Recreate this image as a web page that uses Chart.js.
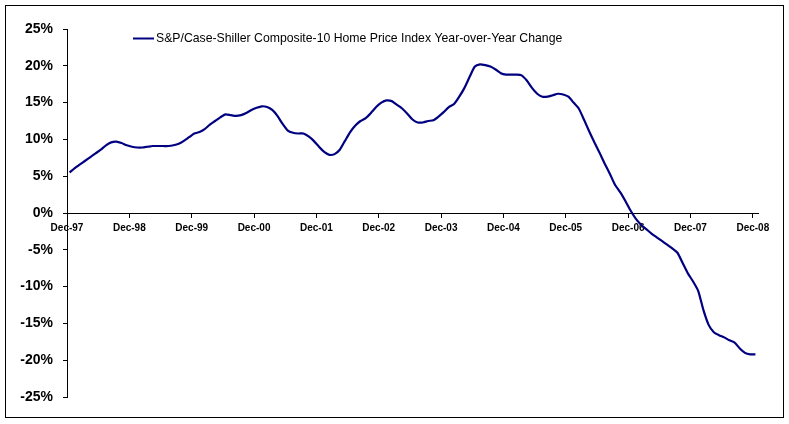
<!DOCTYPE html>
<html>
<head>
<meta charset="utf-8">
<script src="https://cdn.jsdelivr.net/npm/chart.js@4.4.1/dist/chart.umd.min.js"></script>
<style>
  html, body { margin: 0; padding: 0; background: #fff; }
  #wrap { width: 789px; height: 424px; position: relative; }
</style>
</head>
<body>
<div id="wrap"><canvas id="trendChart" width="789" height="424"></canvas></div>
<script>
// monthly year-over-year change (%), Dec-97 .. Dec-08
const seriesLabel = "S&P/Case-Shiller Composite-10 Home Price Index Year-over-Year Change";
const tickLabels = ["Dec-97", "Dec-98", "Dec-99", "Dec-00", "Dec-01", "Dec-02",
                    "Dec-03", "Dec-04", "Dec-05", "Dec-06", "Dec-07", "Dec-08"];
const yoy1998 = [5.5, 6.1, 6.6, 7.1, 7.6, 8.1, 8.6, 9.2, 9.6, 9.7, 9.5, 9.2];
const yoy1999 = [9.0, 8.9, 8.9, 9.0, 9.1, 9.1, 9.1, 9.1, 9.2, 9.4, 9.8, 10.3];
const yoy2000 = [10.8, 11.0, 11.4, 12.0, 12.5, 13.0, 13.4, 13.3, 13.2, 13.3, 13.6, 14.0];
const yoy2001 = [14.3, 14.5, 14.4, 14.0, 13.2, 12.1, 11.2, 10.9, 10.8, 10.8, 10.4, 9.8];
const yoy2002 = [9.0, 8.3, 7.9, 8.0, 8.6, 9.8, 11.0, 11.9, 12.5, 12.9, 13.6, 14.4];
const yoy2003 = [15.0, 15.3, 15.2, 14.7, 14.2, 13.5, 12.7, 12.3, 12.3, 12.5, 12.6, 13.1];
const yoy2004 = [13.7, 14.4, 14.8, 15.8, 17.0, 18.5, 19.9, 20.2, 20.1, 19.9, 19.5, 19.0];
const yoy2005 = [18.8, 18.8, 18.8, 18.7, 18.0, 17.0, 16.2, 15.8, 15.8, 16.0, 16.2, 16.1];
const yoy2006 = [15.8, 15.0, 14.2, 12.7, 11.1, 9.6, 8.2, 6.7, 5.3, 3.8, 2.8, 1.6];
const yoy2007 = [0.3, -0.8, -1.6, -2.2, -2.8, -3.3, -3.8, -4.3, -4.8, -5.4, -6.8, -8.2];
const yoy2008 = [-9.3, -10.6, -13.2, -15.2, -16.2, -16.6, -16.9, -17.3, -17.6, -18.4, -19.0, -19.2, -19.2];

const values = [].concat(yoy1998, yoy1999, yoy2000, yoy2001, yoy2002, yoy2003,
                         yoy2004, yoy2005, yoy2006, yoy2007, yoy2008);
// each month sits in the middle of its slot, as Excel does
const points = values.map((v, i) => ({ x: i + 0.5, y: v }));

const lineColor = "#000080";

const framePlugin = {
    id: "frame",
    afterDraw(chart) {
        const ctx = chart.ctx;
        ctx.save();
        ctx.strokeStyle = "#000";
        ctx.lineWidth = 1;
        ctx.strokeRect(5.5, 5.5, 778, 412);

        // legend inside the plot area
        ctx.strokeStyle = lineColor;
        ctx.lineWidth = 2;
        ctx.beginPath();
        ctx.moveTo(133, 38.5);
        ctx.lineTo(154, 38.5);
        ctx.stroke();
        ctx.fillStyle = "#000";
        ctx.font = "12.25px 'Liberation Sans', Arial, sans-serif";
        ctx.textBaseline = "middle";
        ctx.fillText(chart.data.datasets[0].label, 156, 39);
        ctx.restore();
    }
};

document.addEventListener("DOMContentLoaded", function () {
    const ctx = document.getElementById("trendChart").getContext("2d");
    new Chart(ctx, {
        type: "line",
        data: {
            datasets: [{
                label: seriesLabel,
                data: points,
                borderColor: lineColor,
                borderWidth: 2.2,
                pointRadius: 0,
                tension: 0.2,
                fill: false
            }]
        },
        options: {
            responsive: false,
            animation: false,
            layout: { padding: { left: 0, top: 29, right: 31, bottom: 27 } },
            plugins: {
                legend: { display: false },
                tooltip: { enabled: false }
            },
            scales: {
                x: {
                    type: "linear",
                    position: { y: 0 },
                    min: 0,
                    max: values.length,
                    afterBuildTicks: function (scale) {
                        scale.ticks = tickLabels.map((t, i) => ({ value: i * 12 }));
                    },
                    grid: {
                        display: true,
                        drawOnChartArea: false,
                        drawTicks: true,
                        tickLength: 4,
                        color: "#000"
                    },
                    border: { display: true, color: "#000", width: 1 },
                    ticks: {
                        autoSkip: false,
                        maxRotation: 0,
                        padding: 5,
                        color: "#000",
                        font: { family: "'Liberation Sans', Arial, sans-serif", size: 10, weight: "bold" },
                        callback: function (value) {
                            return tickLabels[Math.round(value / 12)];
                        }
                    }
                },
                y: {
                    min: -25,
                    max: 25,
                    afterFit: function (scale) { scale.width = 67; },
                    grid: {
                        display: true,
                        drawOnChartArea: false,
                        drawTicks: true,
                        tickLength: 4,
                        color: "#000"
                    },
                    border: { display: true, color: "#000", width: 1 },
                    ticks: {
                        stepSize: 5,
                        padding: 10,
                        color: "#000",
                        font: { family: "'Liberation Sans', Arial, sans-serif", size: 14, weight: "bold" },
                        callback: function (value) { return value + "%"; }
                    }
                }
            }
        },
        plugins: [framePlugin]
    });
});
</script>
</body>
</html>
